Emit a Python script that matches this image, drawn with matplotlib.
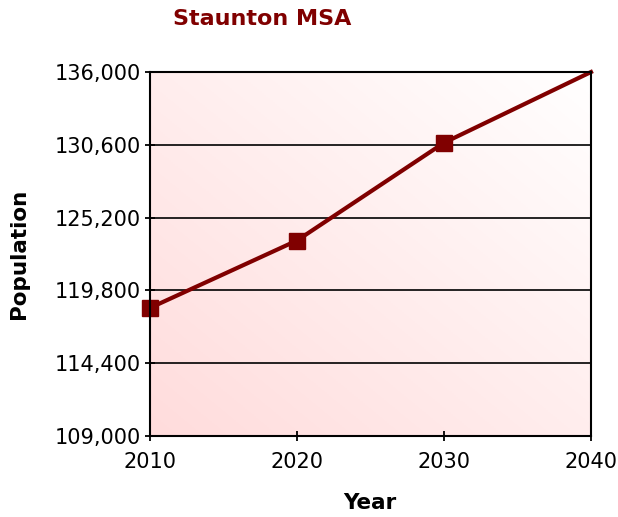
import matplotlib
matplotlib.use('Agg')
import matplotlib.pyplot as plt
import numpy as np
from matplotlib.colors import LinearSegmentedColormap
from matplotlib.ticker import FuncFormatter

# datos
years = [2010, 2020, 2030, 2040]
population = [118500, 123500, 130750, 136000]
yticks = [109000, 114400, 119800, 125200, 130600, 136000]
xticks = [2010, 2020, 2030, 2040]

dark_red = '#800000'

fig = plt.figure(figsize=(6.18, 5.17), dpi=100)
ax = fig.add_axes([0.2427, 0.1567, 0.7136, 0.704])

ax.set_xlim(2010, 2040)
ax.set_ylim(109000, 136000)

# fondo degradado (rosa abajo a la izquierda, blanco arriba a la derecha)
gx, gy = np.meshgrid(np.linspace(0, 1, 200), np.linspace(0, 1, 200))
grad = (gx + gy) / 2
cmap = LinearSegmentedColormap.from_list('bg', ['#ffdcdc', '#ffffff'])
ax.imshow(grad, cmap=cmap, origin='lower', aspect='auto',
          extent=[2010, 2040, 109000, 136000], zorder=0)

ax.set_yticks(yticks)
ax.set_xticks(xticks)
ax.yaxis.set_major_formatter(FuncFormatter(lambda v, p: f'{int(v):,}'))
ax.grid(axis='y', color='black', linewidth=1.2, zorder=1)

ax.plot(years, population, color=dark_red, linewidth=3, marker='s',
        markersize=12, markevery=[0, 1, 2], clip_on=False, zorder=3)

for s in ax.spines.values():
    s.set_linewidth(1.5)
    s.set_zorder(4)

ax.tick_params(direction='inout', length=7, width=1.3, labelsize=15)
ax.tick_params(axis='y', pad=3)
ax.tick_params(axis='x', pad=8)

fig.text(262 / 618, 1 - 19 / 517, 'Staunton MSA', color=dark_red, fontsize=16,
         fontweight='bold', ha='center', va='center')
fig.text(370 / 618, 1 - 503 / 517, 'Year', fontsize=15.5, fontweight='bold',
         ha='center', va='center')
fig.text(19 / 618, 1 - 254 / 517, 'Population', fontsize=15.5, fontweight='bold',
         ha='center', va='center', rotation=90)

fig.savefig('out.png', dpi=100)
